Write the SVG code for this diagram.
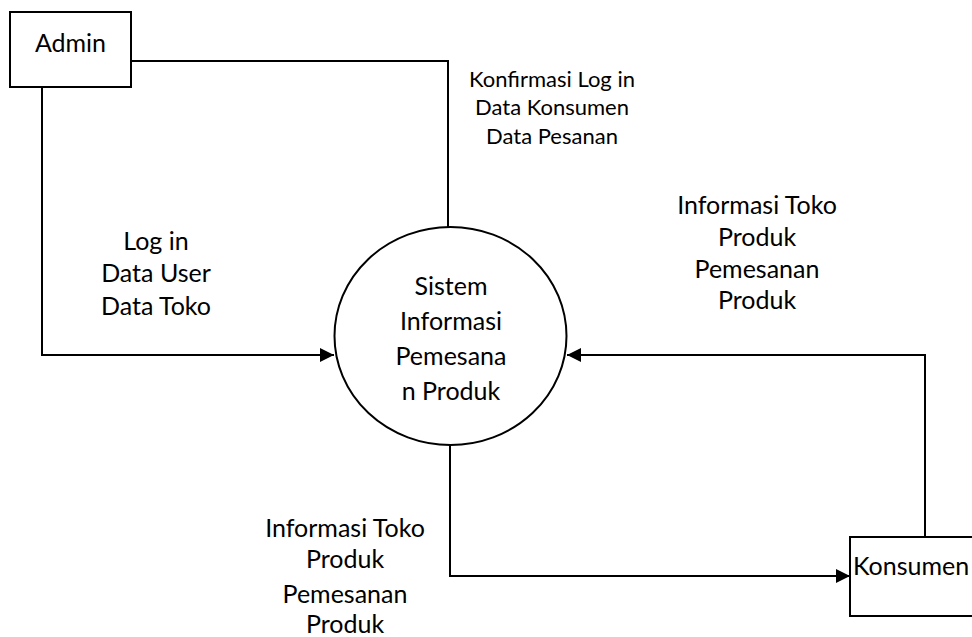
<svg xmlns="http://www.w3.org/2000/svg" width="972" height="637" viewBox="0 0 972 637">
<defs>
<marker id="arr" markerWidth="14" markerHeight="14" refX="14" refY="7" orient="auto" markerUnits="userSpaceOnUse">
<path d="M0,0 L14,7 L0,14 Z" fill="#000"/>
</marker>
<style>
.box{fill:#fff;stroke:#000;stroke-width:2}
.ln{fill:none;stroke:#000;stroke-width:2}
.t{font-family:Lato,"Liberation Sans",sans-serif;font-size:25px;fill:#000;text-anchor:middle}
.ts{font-family:Lato,"Liberation Sans",sans-serif;font-size:22px;fill:#000;text-anchor:middle}
</style>
</defs>
<rect width="972" height="637" fill="#fff"/>
<g id="connectors">
<polyline class="ln" points="131,61 448,61 448,227"/>
<polyline class="ln" points="42,87 42,355 334,355" marker-end="url(#arr)"/>
<polyline class="ln" points="925,537 925,355 567,355" marker-end="url(#arr)"/>
<polyline class="ln" points="450,445 450,576 850,576" marker-end="url(#arr)"/>
</g>
<g id="admin">
<rect class="box" x="10" y="12" width="121" height="75"/>
<text class="t" x="70.5" y="52">Admin</text>
</g>
<g id="sistem">
<ellipse class="box" cx="450.5" cy="336" rx="116" ry="109"/>
<text class="t" x="451" y="295">Sistem</text>
<text class="t" x="451" y="330">Informasi</text>
<text class="t" x="451" y="365">Pemesana</text>
<text class="t" x="451" y="400">n Produk</text>
</g>
<g id="konsumen">
<rect class="box" x="850" y="537" width="130" height="79"/>
<text class="t" x="853" y="575" style="text-anchor:start">Konsumen</text>
</g>
<g id="labels">
<text class="ts" x="552" y="87">Konfirmasi Log in</text>
<text class="ts" x="552" y="115">Data Konsumen</text>
<text class="ts" x="552" y="144">Data Pesanan</text>
<text class="t" x="757" y="214">Informasi Toko</text>
<text class="t" x="757" y="246">Produk</text>
<text class="t" x="757" y="278">Pemesanan</text>
<text class="t" x="757" y="309">Produk</text>
<text class="t" x="156" y="250">Log in</text>
<text class="t" x="156" y="282">Data User</text>
<text class="t" x="156" y="315">Data Toko</text>
<text class="t" x="345" y="537">Informasi Toko</text>
<text class="t" x="345" y="568">Produk</text>
<text class="t" x="345" y="603">Pemesanan</text>
<text class="t" x="345" y="633">Produk</text>
</g>
</svg>
